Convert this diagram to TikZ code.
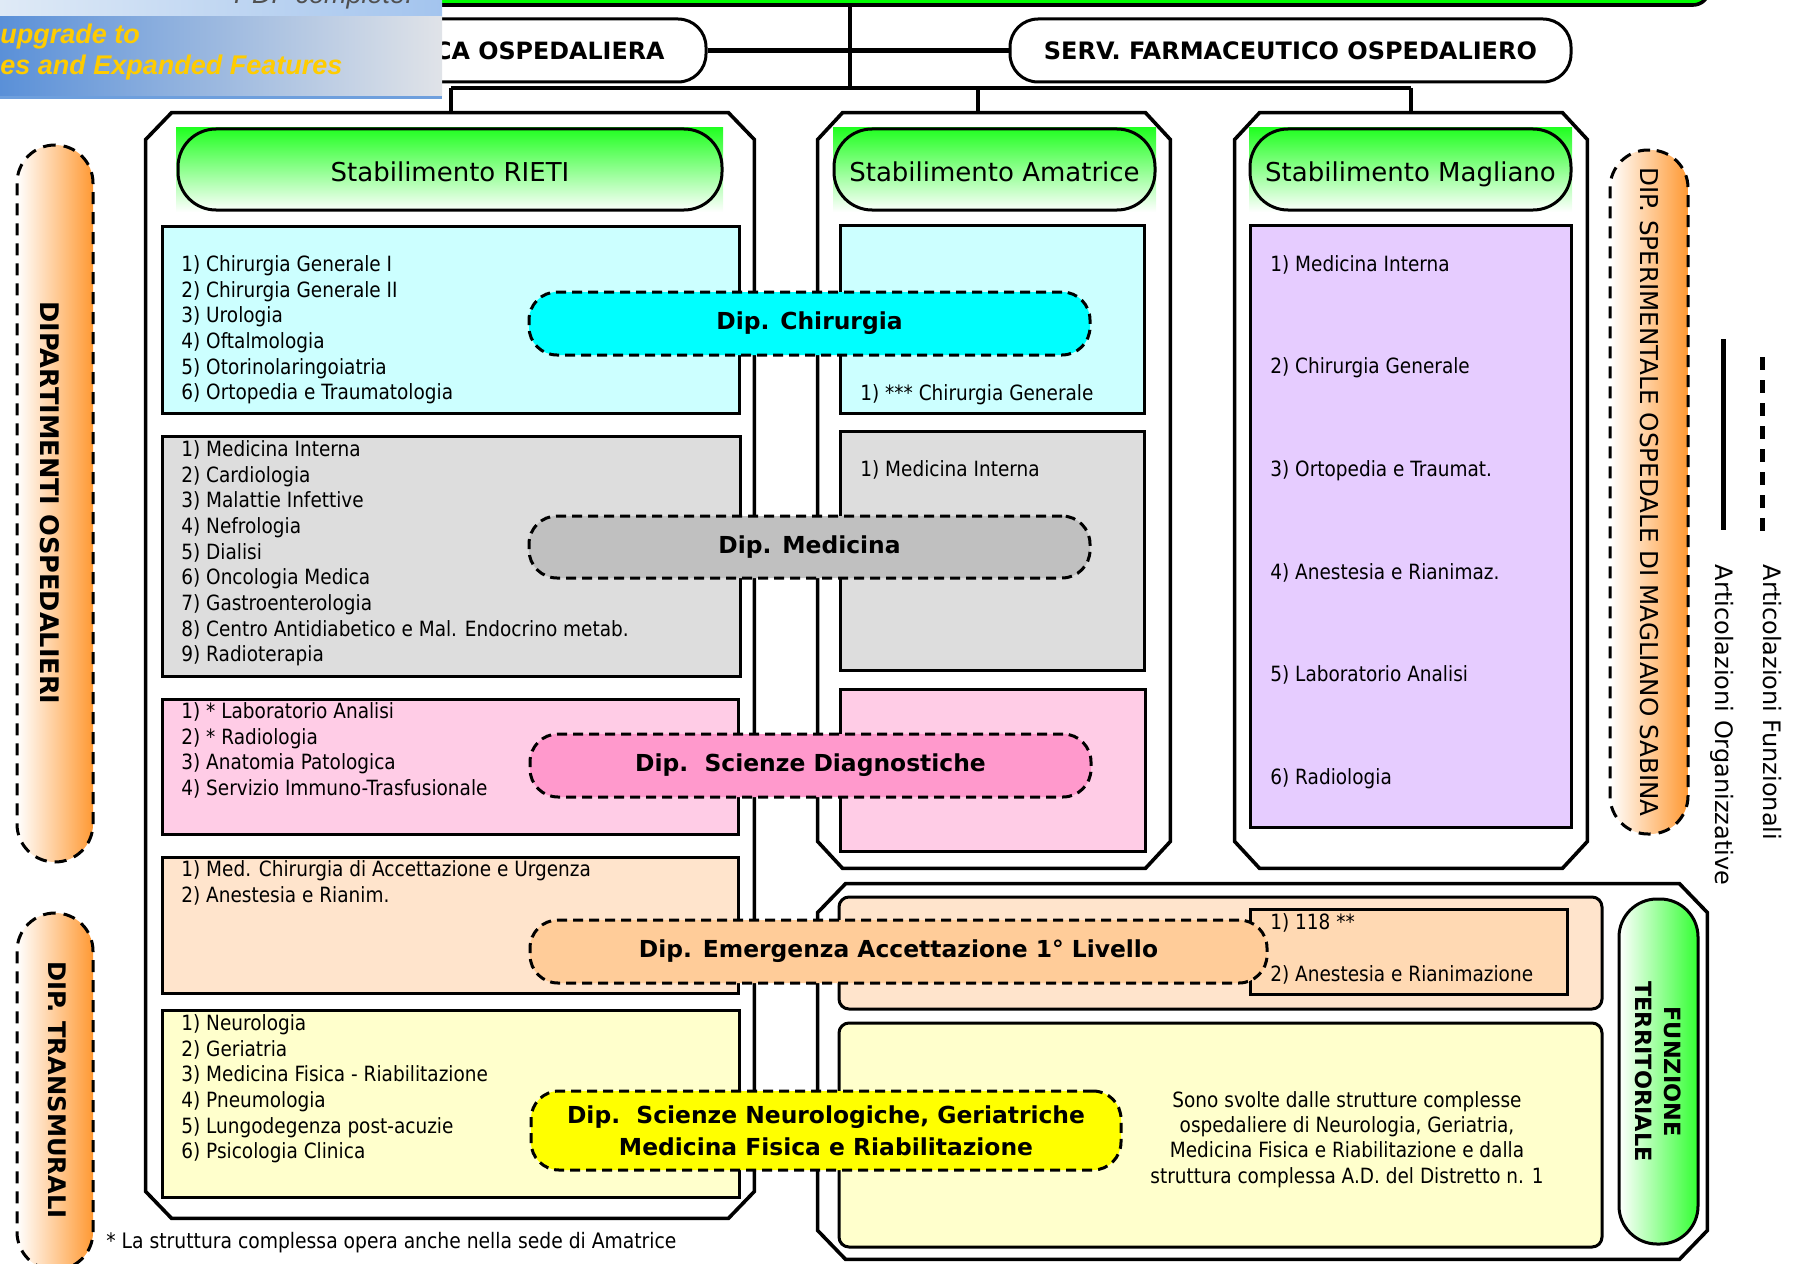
\documentclass[tikz,border=0pt]{standalone}
\usepackage{fontspec}
\setmainfont{DejaVu Sans}
\newfontfamily\itemfam{DejaVu Sans}[FakeStretch=0.88]
\newfontfamily\wmfam{Liberation Sans}
\usepackage{tikz}
\usetikzlibrary{positioning}

\definecolor{topgreen}{HTML}{00FF00}
\definecolor{hgreen}{HTML}{22FF22}
\definecolor{fgreen}{HTML}{33FF33}
\definecolor{vorange}{HTML}{FF9933}
\definecolor{cyanL}{HTML}{CCFFFF}
\definecolor{cyanD}{HTML}{00FFFF}
\definecolor{grayL}{HTML}{DDDDDD}
\definecolor{grayD}{HTML}{C0C0C0}
\definecolor{pinkL}{HTML}{FFCCE6}
\definecolor{pinkD}{HTML}{FF99CC}
\definecolor{peachL}{HTML}{FFE4CC}
\definecolor{peachM}{HTML}{FFD9B3}
\definecolor{orangeL}{HTML}{FFCC99}
\definecolor{yellowL}{HTML}{FFFFCC}
\definecolor{yellowD}{HTML}{FFFF00}
\definecolor{lavL}{HTML}{E6CCFF}
\definecolor{wmTopL}{HTML}{DFEAF6}
\definecolor{wmTopR}{HTML}{A3C4EE}
\definecolor{wmL}{HTML}{5A90D8}
\definecolor{wmR}{HTML}{E0E3E8}
\definecolor{wmLine}{HTML}{6E9FDD}
\definecolor{wmGold}{HTML}{FFCC00}
\definecolor{wmGray}{HTML}{505050}

% contorno smussato attorno a un nodo: {nodo}{dx}{dy}
\newcommand{\chamferbox}[3]{%
  \draw[line width=1.8pt] ([xshift=#2]#1.north west) -- ([xshift=-#2]#1.north east)
    -- ([yshift=-#3]#1.north east) -- ([yshift=#3]#1.south east)
    -- ([xshift=-#2]#1.south east) -- ([xshift=#2]#1.south west)
    -- ([yshift=#3]#1.south west) -- ([yshift=-#3]#1.north west) -- cycle;}

\begin{document}
\begin{tikzpicture}[
    x=0.5pt, y=-0.5pt,
    conn/.style={line width=2.2pt},
    outer/.style={rectangle, inner sep=0pt},
    unitbox/.style={rectangle, draw, line width=1.5pt, inner sep=0pt},
    hdrbg/.style={rectangle, top color=hgreen, bottom color=white, inner sep=0pt, minimum height=42pt},
    hdrpill/.style={rectangle, draw, line width=1.5pt, rounded corners=19pt, inner sep=0pt, minimum height=40.5pt, text height=12pt, text depth=0pt, font=\fontsize{13}{15}\selectfont},
    titlebox/.style={rectangle, draw, line width=1.5pt, fill=white, rounded corners=14pt, inner sep=0pt, minimum height=31.5pt, font=\bfseries\fontsize{12}{14}\selectfont},
    dip/.style={rectangle, draw, line width=1.5pt, dash pattern=on 5pt off 3pt, rounded corners=14pt, inner sep=0pt, align=center, font=\bfseries\fontsize{11.7}{16}\selectfont},
    vpill/.style={rectangle, draw, line width=1.5pt, dash pattern=on 6pt off 4pt, rounded corners=19pt, inner sep=0pt, minimum width=38pt, left color=white, right color=vorange},
    vtext/.style={rotate=-90, inner sep=0pt, align=center},
    items/.style={anchor=north west, align=left, inner sep=0pt, font=\itemfam\fontsize{10.5}{12.85}\selectfont},
    legend/.style={rotate=-90, inner sep=0pt, font=\fontsize{12}{14}\selectfont},
    wmtext/.style={anchor=west, inner sep=0pt, text=wmGold, font=\wmfam\bfseries\itshape\fontsize{13.5}{15}\selectfont}
]
\useasboundingbox (0,0) rectangle (1798,1263);
\clip (0,0) rectangle (1798,1263);

% Vertice e direzioni
\node[rectangle, draw, line width=1.8pt, fill=topgreen, rounded corners=8pt, minimum width=664.5pt, minimum height=25pt] (topBox) at (1044.5,-20) {};
\node[titlebox, minimum width=259.5pt] (dir) at (446.5,50.5) {};
\node[anchor=east, inner sep=0pt, font=\bfseries\fontsize{11.9}{14}\selectfont] (dirTxt) at (665,50.5) {DIREZIONE MEDICA OSPEDALIERA};
\node[titlebox, minimum width=280.5pt] (farm) at (1290.5,50.5) {SERV. FARMACEUTICO OSPEDALIERO};

% Stabilimenti
\node[outer, minimum width=304pt, minimum height=552.5pt] (rieti) at (450,665.5) {};
\node[outer, minimum width=176pt, minimum height=377.5pt] (amat) at (994,490.5) {};
\node[outer, minimum width=176pt, minimum height=377.5pt] (magl) at (1411,490.5) {};
\node[outer, minimum width=444.5pt, minimum height=187.5pt] (terr) at (1262.5,1071.5) {};
\chamferbox{rieti}{13pt}{13.5pt}
\chamferbox{amat}{12.5pt}{13.5pt}
\chamferbox{magl}{12.5pt}{13.5pt}
\chamferbox{terr}{14pt}{14.5pt}

% Collegamenti
\coordinate (hub) at (850,88);
\coordinate (busL) at (451,88);
\coordinate (busA) at (978,88);
\coordinate (busR) at (1411,88);
\draw[conn] (topBox.south -| hub) -- (hub);
\draw[conn] (dir.east) -- (farm.west);
\draw[conn] (busL) -- (busR);
\draw[conn] (busL) -- (busL |- rieti.north);
\draw[conn] (busA) -- (busA |- amat.north);
\draw[conn] (busR) -- (magl.north);

% Intestazioni
\node[hdrbg, minimum width=273.5pt] (rietiBg) at (449.5,170) {};
\node[hdrpill, minimum width=272pt] (rietiHd) at (450,169.5) {Stabilimento RIETI};
\node[hdrbg, minimum width=161.5pt] (amatBg) at (994.5,170) {};
\node[hdrpill, minimum width=160.5pt] (amatHd) at (994.5,169.5) {Stabilimento Amatrice};
\node[hdrbg, minimum width=161.5pt] (maglBg) at (1410.5,170) {};
\node[hdrpill, minimum width=160.5pt] (maglHd) at (1410.5,169.5) {Stabilimento Magliano};

% Strutture di Rieti
\node[unitbox, fill=cyanL, minimum width=288.5pt, minimum height=93.5pt] (rChir) at (450.5,319.5) {};
\node[unitbox, fill=grayL, minimum width=289pt, minimum height=120pt] (rMed) at (451,556) {};
\node[unitbox, fill=pinkL, minimum width=288pt, minimum height=67.5pt] (rDia) at (450,766.5) {};
\node[unitbox, fill=peachL, minimum width=288pt, minimum height=68pt] (rEme) at (450,925) {};
\node[unitbox, fill=yellowL, minimum width=288.5pt, minimum height=93.5pt] (rNeu) at (450.5,1103.5) {};
\node[items] (rChirTxt) at (181,255) {1) Chirurgia Generale I\\2) Chirurgia Generale II\\3) Urologia\\4) Oftalmologia\\5) Otorinolaringoiatria\\6) Ortopedia e Traumatologia};
\node[items] (rMedTxt) at (181,440) {1) Medicina Interna\\2) Cardiologia\\3) Malattie Infettive\\4) Nefrologia\\5) Dialisi\\6) Oncologia Medica\\7) Gastroenterologia\\8) Centro Antidiabetico e Mal. Endocrino metab.\\9) Radioterapia};
\node[items] (rDiaTxt) at (181,702) {1) * Laboratorio Analisi\\2) * Radiologia\\3) Anatomia Patologica\\4) Servizio Immuno-Trasfusionale};
\node[items] (rEmeTxt) at (181,860) {1) Med. Chirurgia di Accettazione e Urgenza\\2) Anestesia e Rianim.};
\node[items] (rNeuTxt) at (181,1014) {1) Neurologia\\2) Geriatria\\3) Medicina Fisica - Riabilitazione\\4) Pneumologia\\5) Lungodegenza post-acuzie\\6) Psicologia Clinica};

% Strutture di Amatrice
\node[unitbox, fill=cyanL, minimum width=152pt, minimum height=94pt] (aChir) at (992,319) {};
\node[unitbox, fill=grayL, minimum width=152pt, minimum height=119.5pt] (aMed) at (992,550.5) {};
\node[unitbox, fill=pinkL, minimum width=152.5pt, minimum height=81pt] (aDia) at (992.5,770) {};
\node[items] (aChirTxt) at (860,384) {1) *** Chirurgia Generale};
\node[items] (aMedTxt) at (860,460) {1) Medicina Interna};

% Strutture di Magliano
\node[unitbox, fill=lavL, minimum width=160.5pt, minimum height=301pt] (mList) at (1410.5,526) {};
\node[items, font=\itemfam\fontsize{10.5}{51.3}\selectfont] (mListTxt) at (1270,255) {1) Medicina Interna\\2) Chirurgia Generale\\3) Ortopedia e Traumat.\\4) Anestesia e Rianimaz.\\5) Laboratorio Analisi\\6) Radiologia};

% Funzione territoriale
\node[unitbox, fill=peachL, rounded corners=5pt, minimum width=381.5pt, minimum height=56pt] (tEme) at (1220.5,953) {};
\node[unitbox, fill=peachM, minimum width=158.5pt, minimum height=42.5pt] (tEmeIn) at (1408.5,951.5) {};
\node[items, font=\itemfam\fontsize{10.5}{26}\selectfont] (tEmeTxt) at (1270,913) {1) 118 **\\2) Anestesia e Rianimazione};
\node[unitbox, fill=yellowL, rounded corners=5pt, minimum width=381.5pt, minimum height=112pt] (tNeu) at (1220.5,1135) {};
\node[items, anchor=north, align=center, font=\itemfam\fontsize{10.5}{12.65}\selectfont] (tNeuTxt) at (1347,1091) {Sono svolte dalle strutture complesse\\ospedaliere di Neurologia, Geriatria,\\Medicina Fisica e Riabilitazione e dalla\\struttura complessa A.D. del Distretto n. 1};
\node[rectangle, draw, line width=1.5pt, rounded corners=19pt, inner sep=0pt, minimum width=39.5pt, minimum height=172.5pt, left color=white, right color=fgreen] (funTerr) at (1658.5,1071.5) {};
\node[vtext, font=\bfseries\fontsize{11.2}{14.5}\selectfont] (funTerrTxt) at (funTerr.center) {FUNZIONE\\TERRITORIALE};

% Dipartimenti
\node[dip, fill=cyanD, minimum width=280.5pt, minimum height=31.5pt] (dChir) at (809.5,323.5) {Dip. Chirurgia};
\node[dip, fill=grayD, minimum width=280.5pt, minimum height=31pt] (dMed) at (809.5,547) {Dip. Medicina};
\node[dip, fill=pinkD, minimum width=280.5pt, minimum height=31.5pt] (dDia) at (810.5,765.5) {Dip.\ \ Scienze Diagnostiche};
\node[dip, fill=orangeL, minimum width=368.5pt, minimum height=31.5pt] (dEme) at (898.5,951.5) {Dip. Emergenza Accettazione 1° Livello};
\node[dip, fill=yellowD, minimum width=295pt, minimum height=39.5pt] (dNeu) at (826,1130.5) {Dip.\ \ Scienze Neurologiche, Geriatriche\\Medicina Fisica e Riabilitazione};

% Fasce laterali
\node[vpill, minimum height=358.5pt] (dipOsp) at (55,503.5) {};
\node[vtext, font=\bfseries\fontsize{12.8}{14}\selectfont] (dipOspTxt) at (50,503) {DIPARTIMENTI OSPEDALIERI};
\node[vpill, minimum height=178.5pt] (dipTrans) at (55,1091.5) {};
\node[vtext, font=\bfseries\fontsize{12.1}{14}\selectfont] (dipTransTxt) at (57,1090) {DIP. TRANSMURALI};
\node[vpill, minimum width=39pt, minimum height=342pt] (dipSper) at (1649,492) {};
\node[vtext, font=\fontsize{12.3}{14}\selectfont] (dipSperTxt) at (dipSper.center) {DIP. SPERIMENTALE OSPEDALE DI MAGLIANO SABINA};

\node[items, font=\itemfam\fontsize{10.65}{13}\selectfont] (note) at (106,1232) {* La struttura complessa opera anche nella sede di Amatrice};

% Legenda
\coordinate (solTop) at (1723,339);
\coordinate (solBot) at (1723,530);
\coordinate (dashTop) at (1762,357);
\coordinate (dashBot) at (1762,538);
\draw[line width=2.5pt] (solTop) -- (solBot);
\draw[line width=2.5pt, dash pattern=on 6.5pt off 5pt] (dashTop) -- (dashBot);
\node[legend] (legOrg) at (1722,725) {Articolazioni Organizzative};
\node[legend] (legFun) at (1772,702.5) {Articolazioni Funzionali};

% Banner
\shade[left color=wmTopL, right color=wmTopR] (0,0) rectangle (442,17);
\shade[left color=wmL, right color=wmR] (0,17) rectangle (442,97);
\draw[wmLine, line width=1.2pt] (0,97.5) -- (442,97.5);
\node[anchor=base east, inner sep=0pt, text=wmGray, font=\wmfam\itshape\fontsize{13.5}{15}\selectfont] (wmPdf) at (413,4) {PDF complete.};
\node[wmtext] (wmUp) at (0,37) {upgrade to};
\node[wmtext] (wmFeat) at (0,68) {es and Expanded Features};
\end{tikzpicture}
\end{document}
